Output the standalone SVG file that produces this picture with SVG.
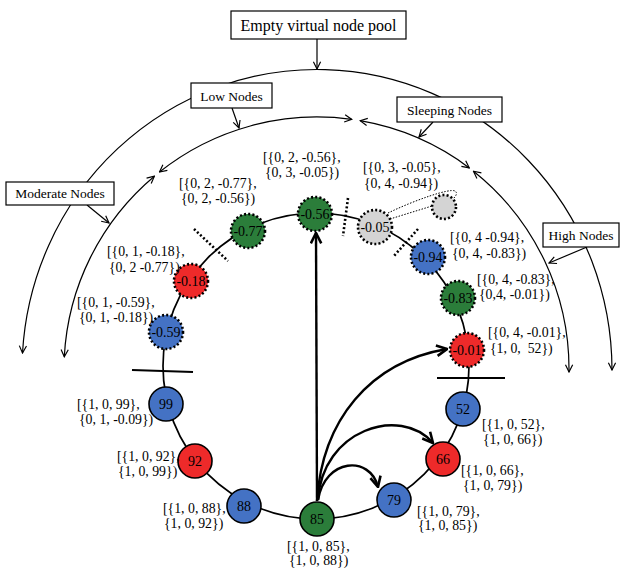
<svg xmlns="http://www.w3.org/2000/svg" width="621" height="568" viewBox="0 0 621 568">
<style>
text{font-family:"Liberation Serif","Times New Roman",serif;fill:#000}
.lbl{font-size:13.8px}
.box{fill:#fff;stroke:#000;stroke-width:1.2}
.bt{font-size:13.5px;text-anchor:middle}
.thin{fill:none;stroke:#000;stroke-width:1.2}
.thick{fill:none;stroke:#000;stroke-width:2.4}
.ring{fill:none;stroke:#000;stroke-width:1.7}
.v{stroke:#000;stroke-width:2.6;stroke-dasharray:2 2.2}
.s{stroke:#000;stroke-width:1.6}
.g{fill:#2b7d3a}.r{fill:#ee2a2a}.b{fill:#4472c4}.gr{fill:#d4d4d4}
.nt{font-size:14px;text-anchor:middle}
.tick{stroke:#000;stroke-width:2.6;stroke-dasharray:2 2.2}
</style>
<defs>
<marker id="a" viewBox="0 0 10 10" refX="9" refY="5" markerWidth="9" markerHeight="9" markerUnits="userSpaceOnUse" orient="auto-start-reverse"><path d="M1,1 L9,5 L1,9" fill="none" stroke="#000" stroke-width="1.3"/></marker>
<marker id="t" viewBox="0 0 10 10" refX="9" refY="5" markerWidth="13" markerHeight="13" markerUnits="userSpaceOnUse" orient="auto"><path d="M1,1 L9,5 L1,9" fill="none" stroke="#000" stroke-width="2"/></marker>
</defs>
<g id="connectors">
<path class="thin" d="M22.5,353 A295 301 0 0 1 612,370" marker-start="url(#a)" marker-end="url(#a)"/>
<path class="thin" d="M154.4,176.2 A253 253 0 0 0 64.3,356.8" marker-start="url(#a)" marker-end="url(#a)"/>
<path class="thin" d="M159.5,172 A253 253 0 0 1 351.8,119.4" marker-start="url(#a)" marker-end="url(#a)"/>
<path class="thin" d="M360.1,120.7 A253 253 0 0 1 469.3,167.9" marker-start="url(#a)" marker-end="url(#a)"/>
<path class="thin" d="M473.5,171.2 A253 253 0 0 1 569,372" marker-start="url(#a)" marker-end="url(#a)"/>
<line class="thin" x1="317" y1="39" x2="317" y2="69" marker-end="url(#a)"/>
<line class="thin" x1="232" y1="108" x2="239" y2="128" marker-end="url(#a)"/>
<line class="thin" x1="433" y1="122" x2="419" y2="137" marker-end="url(#a)"/>
<line class="thin" x1="587" y1="247" x2="549" y2="263" marker-end="url(#a)"/>
<line class="thin" x1="87" y1="205" x2="109" y2="223" marker-end="url(#a)"/>
<circle class="ring" cx="316" cy="366" r="153"/>
<line x1="132" y1="370" x2="193" y2="372" stroke="#000" stroke-width="2.2"/>
<line x1="437" y1="378" x2="505" y2="378" stroke="#000" stroke-width="2.2"/>
<line class="tick" x1="348" y1="198" x2="343" y2="236"/>
<line class="tick" x1="418" y1="229" x2="393" y2="257"/>
<line class="tick" x1="194" y1="229" x2="228" y2="261"/>
<path d="M388,213 C415,200 450,188 455,191 C458,193 456,196 453,199 M390,219 L432,206" fill="none" stroke="#000" stroke-width="1" stroke-dasharray="1.5 1.5"/>
<line class="thick" x1="317" y1="501" x2="316" y2="233" marker-end="url(#t)"/>
<path class="thick" d="M317,501 C322,420 370,362 447,349" marker-end="url(#t)"/>
<path class="thick" d="M318,500 C322,430 400,405 433,443" marker-end="url(#t)"/>
<path class="thick" d="M318,500 C325,458 370,455 378,487" marker-end="url(#t)"/>
</g>
<g id="pool"><rect class="box" x="231" y="11" width="175" height="28"/><text x="318.5" y="30.5" style="font-size:16px;text-anchor:middle">Empty virtual node pool</text></g>
<g id="low"><rect class="box" x="191" y="83" width="81" height="25"/><text class="bt" x="231.5" y="100.5">Low Nodes</text></g>
<g id="sleeping"><rect class="box" x="397" y="97" width="105" height="25"/><text class="bt" x="449.5" y="114.5">Sleeping Nodes</text></g>
<g id="high"><rect class="box" x="543" y="223" width="76" height="24"/><text class="bt" x="581" y="240">High Nodes</text></g>
<g id="moderate"><rect class="box" x="6" y="182" width="108" height="23"/><text class="bt" x="60" y="198">Moderate Nodes</text></g>
<g id="n077"><circle class="v g" cx="248" cy="231" r="17"/><text class="nt" x="248" y="236">-0.77</text></g>
<g id="n018"><circle class="v r" cx="191" cy="281" r="17"/><text class="nt" x="191" y="286">-0.18</text></g>
<g id="n059"><circle class="v b" cx="166" cy="332" r="17"/><text class="nt" x="166" y="337">-0.59</text></g>
<g id="n056"><circle class="v g" cx="315" cy="214" r="17"/><text class="nt" x="315" y="219">-0.56</text></g>
<g id="n005"><circle class="v gr" cx="375" cy="227" r="17"/><text class="nt" x="375" y="232">-0.05</text></g>
<g id="nsleep"><circle class="v gr" cx="444" cy="207" r="12"/></g>
<g id="n094"><circle class="v b" cx="428" cy="257" r="17"/><text class="nt" x="428" y="262">-0.94</text></g>
<g id="n083"><circle class="v g" cx="458" cy="298" r="17"/><text class="nt" x="458" y="303">-0.83</text></g>
<g id="n001"><circle class="v r" cx="467" cy="350" r="17"/><text class="nt" x="467" y="355">-0.01</text></g>
<g id="n99"><circle class="s b" cx="166" cy="404" r="17"/><text class="nt" x="166" y="409">99</text></g>
<g id="n92"><circle class="s r" cx="195" cy="461" r="17"/><text class="nt" x="195" y="466">92</text></g>
<g id="n88"><circle class="s b" cx="244" cy="506" r="17"/><text class="nt" x="244" y="511">88</text></g>
<g id="n85"><circle class="s g" cx="317" cy="519" r="17"/><text class="nt" x="317" y="524">85</text></g>
<g id="n79"><circle class="s b" cx="394" cy="500" r="17"/><text class="nt" x="394" y="505">79</text></g>
<g id="n66"><circle class="s r" cx="443" cy="459" r="17"/><text class="nt" x="443" y="464">66</text></g>
<g id="n52"><circle class="s b" cx="463" cy="409" r="17"/><text class="nt" x="463" y="414">52</text></g>
<g id="labels" class="lbl">
<text x="263" y="162">[{0, 2, -0.56},</text><text x="265" y="177">{0, 3, -0.05})</text>
<text x="179" y="188">[{0, 2, -0.77},</text><text x="181" y="203">{0, 2, -0.56})</text>
<text x="363" y="172">[{0, 3, -0.05},</text><text x="364" y="188">{0, 4, -0.94})</text>
<text x="107" y="256">[{0, 1, -0.18},</text><text x="109" y="272">{0, 2 -0.77})</text>
<text x="77" y="307">[{0, 1, -0.59},</text><text x="79" y="322">{0, 1, -0.18})</text>
<text x="450" y="242">[{0, 4 -0.94},</text><text x="452" y="258">{0, 4, -0.83})</text>
<text x="477" y="284">[{0, 4, -0.83},</text><text x="479" y="299">{0,4, -0.01})</text>
<text x="488" y="337">[{0, 4, -0.01},</text><text x="490" y="353">{1, 0, &#160;52})</text>
<text x="77" y="409">[{1, 0, 99},</text><text x="79" y="424">{0, 1, -0.09})</text>
<text x="117" y="461">[{1, 0, 92},</text><text x="118" y="476">{1, 0, 99})</text>
<text x="163" y="513">[{1, 0, 88},</text><text x="164" y="528">{1, 0, 92})</text>
<text x="287" y="551">[{1, 0, 85},</text><text x="289" y="565">{1, 0, 88})</text>
<text x="482" y="429">[{1, 0, 52},</text><text x="483" y="444">{1, 0, 66})</text>
<text x="461" y="475">[{1, 0, 66},</text><text x="463" y="490">{1, 0, 79})</text>
<text x="417" y="516">[{1, 0, 79},</text><text x="418" y="530">{1, 0, 85})</text>
</g>
</svg>
